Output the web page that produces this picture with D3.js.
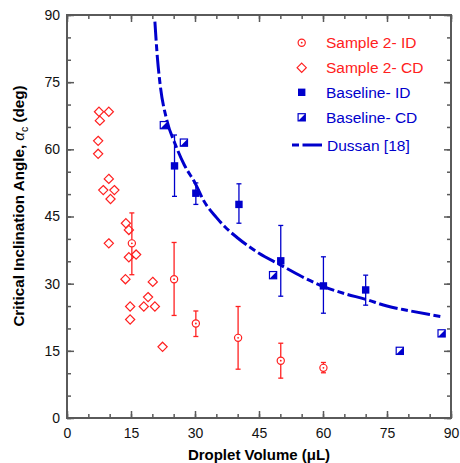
<!DOCTYPE html>
<html>
<head>
<meta charset="utf-8">
<script src="https://cdn.jsdelivr.net/npm/d3@7"></script>
<style>
  body { margin: 0; background: #fff; }
  text { font-family: "Liberation Sans", Arial, Helvetica, sans-serif; }
</style>
</head>
<body>
<div class="chart"></div>
<script>
// data
const s2idVol = [15.2, 25.1, 30.2, 40.1, 50.1, 60.1];
const s2idAng = [39.0, 31.0, 21.1, 17.9, 12.8, 11.2];
const s2idLo  = [32.0, 22.9, 18.2, 10.9, 8.9, 10.1];
const s2idHi  = [45.8, 39.2, 23.9, 24.9, 16.7, 12.4];

const s2cdVol = [7.5, 9.8, 7.7, 7.3, 7.3, 9.8, 8.5, 11.1, 10.2, 13.8, 14.5, 9.8, 14.5, 16.2, 13.7, 20.1, 19.0, 18.0, 20.6, 14.8, 14.8, 22.4];
const s2cdAng = [68.4, 68.4, 66.4, 61.9, 59.0, 53.4, 50.9, 50.9, 48.9, 43.5, 42.0, 39.0, 35.9, 36.5, 31.0, 30.4, 27.0, 24.9, 24.9, 24.9, 22.0, 15.9];

const baseIdVol = [25.2, 30.2, 40.3, 50.1, 60.1, 70.0];
const baseIdAng = [56.3, 50.2, 47.7, 35.1, 29.5, 28.6];
const baseIdLo  = [49.5, 47.7, 43.5, 27.2, 23.4, 25.2];
const baseIdHi  = [63.2, 52.5, 52.3, 43.0, 36.0, 31.9];

const baseCdVol = [22.7, 27.4, 48.3, 78.0, 87.8];
const baseCdAng = [65.4, 61.5, 31.9, 15.0, 18.9];

const dussanVol = [20.6, 21.2, 21.8, 23.4, 25.3, 27.5, 30, 32, 35, 37, 40, 45, 50, 55, 60, 65, 70, 75, 80, 85, 88];
const dussanAng = [88.5, 80.3, 74.7, 66.5, 61.3, 56.5, 52.5, 48.6, 44.8, 42.7, 40.2, 36.8, 34.2, 31.6, 29.4, 27.8, 26.5, 25.0, 24.0, 23.1, 22.6];

const majorTicks = [0, 15, 30, 45, 60, 75, 90];
const minorTicks = d3.range(0, 91, 5);

const red = '#ff2020';
const blue = '#0000cc';
const axisGray = '#5a5a5a';

const width = 460, height = 463;
const plotLeft = 67, plotRight = 451, plotTop = 15, plotBottom = 418;

const svg = d3.select('.chart')
    .append('svg')
    .attr('width', width)
    .attr('height', height);

const x = d3.scaleLinear().domain([0, 90]).range([plotLeft, plotRight]);
const y = d3.scaleLinear().domain([0, 90]).range([plotBottom, plotTop]);

// frame
svg.append('rect')
    .attr('x', plotLeft).attr('y', plotTop)
    .attr('width', plotRight - plotLeft).attr('height', plotBottom - plotTop)
    .attr('fill', 'none')
    .attr('stroke', axisGray)
    .attr('stroke-width', 2);

function styleAxis(g) {
    g.select('.domain').remove();
    g.selectAll('.tick line').attr('stroke', axisGray).attr('stroke-width', 1.5);
    g.selectAll('.tick text')
        .attr('fill', '#111')
        .style('font-size', '14px')
        .style('font-family', '"Liberation Sans", Arial, sans-serif');
}

// minor ticks on all sides
svg.append('g').attr('transform', `translate(0,${plotBottom})`)
    .call(d3.axisBottom(x).tickValues(minorTicks).tickSize(-4).tickFormat(''))
    .call(styleAxis);
svg.append('g').attr('transform', `translate(0,${plotTop})`)
    .call(d3.axisTop(x).tickValues(minorTicks).tickSize(-4).tickFormat(''))
    .call(styleAxis);
svg.append('g').attr('transform', `translate(${plotLeft},0)`)
    .call(d3.axisLeft(y).tickValues(minorTicks).tickSize(-4).tickFormat(''))
    .call(styleAxis);
svg.append('g').attr('transform', `translate(${plotRight},0)`)
    .call(d3.axisRight(y).tickValues(minorTicks).tickSize(-4).tickFormat(''))
    .call(styleAxis);

// major ticks with labels
svg.append('g').attr('transform', `translate(0,${plotBottom})`)
    .call(d3.axisBottom(x).tickValues(majorTicks).tickSize(-7).tickPadding(10).tickFormat(d3.format('d')))
    .call(styleAxis);
svg.append('g').attr('transform', `translate(0,${plotTop})`)
    .call(d3.axisTop(x).tickValues(majorTicks).tickSize(-7).tickFormat(''))
    .call(styleAxis);
svg.append('g').attr('transform', `translate(${plotLeft},0)`)
    .call(d3.axisLeft(y).tickValues(majorTicks).tickSize(-7).tickPadding(7).tickFormat(d3.format('d')))
    .call(styleAxis);
svg.append('g').attr('transform', `translate(${plotRight},0)`)
    .call(d3.axisRight(y).tickValues(majorTicks).tickSize(-7).tickFormat(''))
    .call(styleAxis);

// axis titles
svg.append('text')
    .attr('x', (plotLeft + plotRight) / 2)
    .attr('y', 460)
    .attr('text-anchor', 'middle')
    .style('font-size', '15px')
    .style('font-weight', 'bold')
    .text('Droplet Volume (\u03bcL)');

const yTitle = svg.append('text')
    .attr('transform', `translate(24,206) rotate(-90)`)
    .attr('text-anchor', 'middle')
    .style('font-size', '15.2px')
    .style('font-weight', 'bold');
yTitle.append('tspan').text('Critical Inclination Angle, ');
yTitle.append('tspan').style('font-weight', 'normal').style('font-style', 'italic').text('\u03b1');
yTitle.append('tspan').attr('dy', 4).style('font-size', '10.5px').style('font-weight', 'normal').text('c');
yTitle.append('tspan').attr('dy', -4).text(' (deg)');

// Dussan curve
const dussan = dussanVol.map((v, i) => [v, dussanAng[i]]);
svg.append('path')
    .datum(dussan)
    .attr('fill', 'none')
    .attr('stroke', blue)
    .attr('stroke-width', 3)
    .attr('stroke-dasharray', '19 3.5 7 3.5')
    .attr('d', d3.line().x(d => x(d[0])).y(d => y(d[1])).curve(d3.curveMonotoneX));

// error bars
function errorBars(vol, lo, hi, color) {
    const g = svg.append('g').attr('stroke', color).attr('stroke-width', 1.3);
    vol.forEach((v, i) => {
        g.append('line').attr('x1', x(v)).attr('x2', x(v)).attr('y1', y(lo[i])).attr('y2', y(hi[i]));
        g.append('line').attr('x1', x(v) - 2.5).attr('x2', x(v) + 2.5).attr('y1', y(lo[i])).attr('y2', y(lo[i]));
        g.append('line').attr('x1', x(v) - 2.5).attr('x2', x(v) + 2.5).attr('y1', y(hi[i])).attr('y2', y(hi[i]));
    });
}
errorBars(s2idVol, s2idLo, s2idHi, red);
errorBars(baseIdVol, baseIdLo, baseIdHi, blue);

// marker drawers
function circleMark(g, cx, cy) {
    g.append('circle').attr('cx', cx).attr('cy', cy).attr('r', 3.6)
        .attr('fill', '#fff').attr('stroke', red).attr('stroke-width', 1.2);
    g.append('circle').attr('cx', cx).attr('cy', cy).attr('r', 0.9).attr('fill', red);
}
function diamondMark(g, cx, cy) {
    const r = 4.6;
    g.append('path')
        .attr('d', `M${cx},${cy - r}L${cx + r},${cy}L${cx},${cy + r}L${cx - r},${cy}Z`)
        .attr('fill', 'none').attr('stroke', red).attr('stroke-width', 1.2);
}
function squareMark(g, cx, cy) {
    g.append('rect').attr('x', cx - 3.7).attr('y', cy - 3.7).attr('width', 7.4).attr('height', 7.4)
        .attr('fill', blue);
}
function halfSquareMark(g, cx, cy) {
    const h = 3.6;
    g.append('rect').attr('x', cx - h).attr('y', cy - h).attr('width', 2 * h).attr('height', 2 * h)
        .attr('fill', '#fff').attr('stroke', blue).attr('stroke-width', 1.2);
    g.append('path')
        .attr('d', `M${cx + h},${cy - h}L${cx + h},${cy + h}L${cx - h},${cy + h}Z`)
        .attr('fill', blue);
}

const marks = svg.append('g');
s2cdVol.forEach((v, i) => diamondMark(marks, x(v), y(s2cdAng[i])));
s2idVol.forEach((v, i) => circleMark(marks, x(v), y(s2idAng[i])));
baseIdVol.forEach((v, i) => squareMark(marks, x(v), y(baseIdAng[i])));
baseCdVol.forEach((v, i) => halfSquareMark(marks, x(v), y(baseCdAng[i])));

// legend
const legendItems = [
    { label: 'Sample 2- ID', color: red, draw: circleMark },
    { label: 'Sample 2- CD', color: red, draw: diamondMark },
    { label: 'Baseline- ID', color: blue, draw: squareMark },
    { label: 'Baseline- CD', color: blue, draw: halfSquareMark },
    { label: 'Dussan [18]', color: blue, draw: null }
];
const legendY = [42.7, 67.7, 92.3, 117.3, 145];
const legend = svg.append('g');
legendItems.forEach((item, i) => {
    const ly = legendY[i];
    if (item.draw) {
        item.draw(legend, 301.7, ly);
    } else {
        legend.append('line').attr('x1', 292).attr('x2', 299).attr('y1', ly).attr('y2', ly)
            .attr('stroke', blue).attr('stroke-width', 3);
        legend.append('line').attr('x1', 302.5).attr('x2', 322).attr('y1', ly).attr('y2', ly)
            .attr('stroke', blue).attr('stroke-width', 3);
    }
    legend.append('text')
        .attr('x', i === 4 ? 327 : 326)
        .attr('y', ly + 5.5)
        .attr('fill', item.color)
        .style('font-size', '15.5px')
        .text(item.label);
});
</script>
</body>
</html>
